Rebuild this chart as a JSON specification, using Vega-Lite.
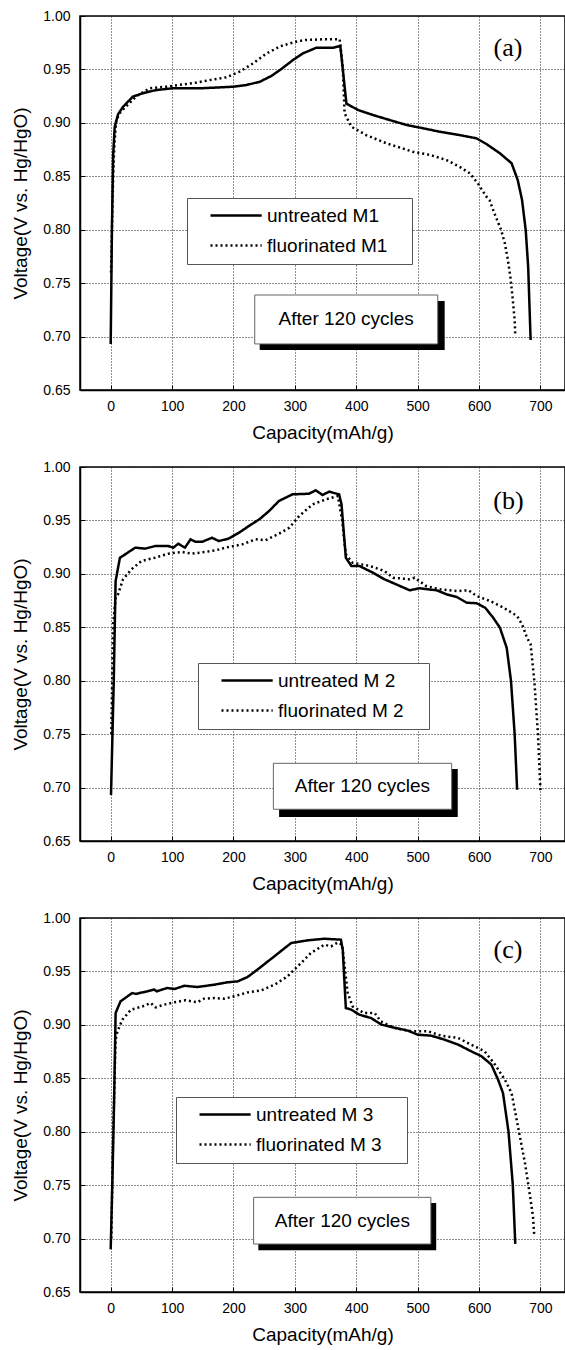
{
  "$schema": "https://vega.github.io/schema/vega-lite/v6.json",
  "background": "white",
  "padding": {"left": 11, "top": 8, "right": 0, "bottom": 0},
  "spacing": 16,
  "resolve": {"scale": {"strokeDash": "independent"}, "legend": {"strokeDash": "independent"}},
  "datasets": {
    "curves": [
      {"p":"a","s":"untreated M1","x":0,"v":0.693},{"p":"a","s":"untreated M1","x":2,"v":0.8},{"p":"a","s":"untreated M1","x":4,"v":0.87},{"p":"a","s":"untreated M1","x":6.5,"v":0.896},{"p":"a","s":"untreated M1","x":12,"v":0.908},{"p":"a","s":"untreated M1","x":20,"v":0.915},{"p":"a","s":"untreated M1","x":36,"v":0.9245},{"p":"a","s":"untreated M1","x":52,"v":0.9277},{"p":"a","s":"untreated M1","x":74,"v":0.9307},{"p":"a","s":"untreated M1","x":100,"v":0.9323},{"p":"a","s":"untreated M1","x":145,"v":0.9323},{"p":"a","s":"untreated M1","x":199,"v":0.9338},{"p":"a","s":"untreated M1","x":221,"v":0.9354},{"p":"a","s":"untreated M1","x":243,"v":0.9385},{"p":"a","s":"untreated M1","x":262,"v":0.944},{"p":"a","s":"untreated M1","x":277,"v":0.95},{"p":"a","s":"untreated M1","x":297,"v":0.9588},{"p":"a","s":"untreated M1","x":313,"v":0.965},{"p":"a","s":"untreated M1","x":335,"v":0.9703},{"p":"a","s":"untreated M1","x":362,"v":0.9703},{"p":"a","s":"untreated M1","x":374,"v":0.972},{"p":"a","s":"untreated M1","x":384,"v":0.918},{"p":"a","s":"untreated M1","x":403,"v":0.912},{"p":"a","s":"untreated M1","x":427,"v":0.9074},{"p":"a","s":"untreated M1","x":454,"v":0.9027},{"p":"a","s":"untreated M1","x":482,"v":0.898},{"p":"a","s":"untreated M1","x":509,"v":0.8949},{"p":"a","s":"untreated M1","x":536,"v":0.8917},{"p":"a","s":"untreated M1","x":568,"v":0.8886},{"p":"a","s":"untreated M1","x":596,"v":0.8855},{"p":"a","s":"untreated M1","x":612,"v":0.8802},{"p":"a","s":"untreated M1","x":634,"v":0.8715},{"p":"a","s":"untreated M1","x":653,"v":0.8622},{"p":"a","s":"untreated M1","x":663,"v":0.8465},{"p":"a","s":"untreated M1","x":670,"v":0.828},{"p":"a","s":"untreated M1","x":676,"v":0.7997},{"p":"a","s":"untreated M1","x":680,"v":0.7654},{"p":"a","s":"untreated M1","x":684,"v":0.6968},
      {"p":"a","s":"fluorinated M1","x":0.5,"v":0.76},{"p":"a","s":"fluorinated M1","x":2,"v":0.8},{"p":"a","s":"fluorinated M1","x":4,"v":0.85},{"p":"a","s":"fluorinated M1","x":6,"v":0.88},{"p":"a","s":"fluorinated M1","x":9,"v":0.9027},{"p":"a","s":"fluorinated M1","x":16,"v":0.91},{"p":"a","s":"fluorinated M1","x":25,"v":0.9153},{"p":"a","s":"fluorinated M1","x":41,"v":0.9245},{"p":"a","s":"fluorinated M1","x":63,"v":0.9323},{"p":"a","s":"fluorinated M1","x":90,"v":0.9338},{"p":"a","s":"fluorinated M1","x":118,"v":0.936},{"p":"a","s":"fluorinated M1","x":140,"v":0.9377},{"p":"a","s":"fluorinated M1","x":156,"v":0.9395},{"p":"a","s":"fluorinated M1","x":188,"v":0.9426},{"p":"a","s":"fluorinated M1","x":210,"v":0.9479},{"p":"a","s":"fluorinated M1","x":232,"v":0.9557},{"p":"a","s":"fluorinated M1","x":254,"v":0.965},{"p":"a","s":"fluorinated M1","x":277,"v":0.9718},{"p":"a","s":"fluorinated M1","x":302,"v":0.976},{"p":"a","s":"fluorinated M1","x":317,"v":0.9775},{"p":"a","s":"fluorinated M1","x":346,"v":0.9782},{"p":"a","s":"fluorinated M1","x":373,"v":0.9782},{"p":"a","s":"fluorinated M1","x":378,"v":0.9526},{"p":"a","s":"fluorinated M1","x":381,"v":0.909},{"p":"a","s":"fluorinated M1","x":392,"v":0.8964},{"p":"a","s":"fluorinated M1","x":416,"v":0.8886},{"p":"a","s":"fluorinated M1","x":449,"v":0.8809},{"p":"a","s":"fluorinated M1","x":492,"v":0.873},{"p":"a","s":"fluorinated M1","x":520,"v":0.87},{"p":"a","s":"fluorinated M1","x":547,"v":0.8652},{"p":"a","s":"fluorinated M1","x":568,"v":0.859},{"p":"a","s":"fluorinated M1","x":585,"v":0.8528},{"p":"a","s":"fluorinated M1","x":598,"v":0.8434},{"p":"a","s":"fluorinated M1","x":612,"v":0.8309},{"p":"a","s":"fluorinated M1","x":617,"v":0.8278},{"p":"a","s":"fluorinated M1","x":625,"v":0.8154},{"p":"a","s":"fluorinated M1","x":636,"v":0.7997},{"p":"a","s":"fluorinated M1","x":642,"v":0.7873},{"p":"a","s":"fluorinated M1","x":647,"v":0.7717},{"p":"a","s":"fluorinated M1","x":651,"v":0.756},{"p":"a","s":"fluorinated M1","x":655,"v":0.7342},{"p":"a","s":"fluorinated M1","x":658,"v":0.7155},{"p":"a","s":"fluorinated M1","x":659,"v":0.7015},
      {"p":"b","s":"untreated M 2","x":0.5,"v":0.693},{"p":"b","s":"untreated M 2","x":5,"v":0.8},{"p":"b","s":"untreated M 2","x":8,"v":0.8933},{"p":"b","s":"untreated M 2","x":15,"v":0.915},{"p":"b","s":"untreated M 2","x":40,"v":0.9245},{"p":"b","s":"untreated M 2","x":56,"v":0.9236},{"p":"b","s":"untreated M 2","x":72,"v":0.926},{"p":"b","s":"untreated M 2","x":94,"v":0.926},{"p":"b","s":"untreated M 2","x":102,"v":0.9245},{"p":"b","s":"untreated M 2","x":110,"v":0.9282},{"p":"b","s":"untreated M 2","x":121,"v":0.9245},{"p":"b","s":"untreated M 2","x":130,"v":0.9323},{"p":"b","s":"untreated M 2","x":138,"v":0.93},{"p":"b","s":"untreated M 2","x":149,"v":0.93},{"p":"b","s":"untreated M 2","x":165,"v":0.9338},{"p":"b","s":"untreated M 2","x":176,"v":0.9307},{"p":"b","s":"untreated M 2","x":192,"v":0.933},{"p":"b","s":"untreated M 2","x":209,"v":0.9385},{"p":"b","s":"untreated M 2","x":225,"v":0.9448},{"p":"b","s":"untreated M 2","x":242,"v":0.951},{"p":"b","s":"untreated M 2","x":258,"v":0.9588},{"p":"b","s":"untreated M 2","x":274,"v":0.9682},{"p":"b","s":"untreated M 2","x":296,"v":0.9744},{"p":"b","s":"untreated M 2","x":323,"v":0.975},{"p":"b","s":"untreated M 2","x":334,"v":0.9782},{"p":"b","s":"untreated M 2","x":345,"v":0.9738},{"p":"b","s":"untreated M 2","x":356,"v":0.9769},{"p":"b","s":"untreated M 2","x":372,"v":0.9744},{"p":"b","s":"untreated M 2","x":376,"v":0.965},{"p":"b","s":"untreated M 2","x":383,"v":0.9151},{"p":"b","s":"untreated M 2","x":392,"v":0.9074},{"p":"b","s":"untreated M 2","x":405,"v":0.9074},{"p":"b","s":"untreated M 2","x":427,"v":0.9011},{"p":"b","s":"untreated M 2","x":446,"v":0.8949},{"p":"b","s":"untreated M 2","x":465,"v":0.8902},{"p":"b","s":"untreated M 2","x":487,"v":0.8846},{"p":"b","s":"untreated M 2","x":503,"v":0.8865},{"p":"b","s":"untreated M 2","x":531,"v":0.8846},{"p":"b","s":"untreated M 2","x":547,"v":0.8809},{"p":"b","s":"untreated M 2","x":564,"v":0.8783},{"p":"b","s":"untreated M 2","x":580,"v":0.873},{"p":"b","s":"untreated M 2","x":596,"v":0.8725},{"p":"b","s":"untreated M 2","x":610,"v":0.8683},{"p":"b","s":"untreated M 2","x":623,"v":0.859},{"p":"b","s":"untreated M 2","x":634,"v":0.8496},{"p":"b","s":"untreated M 2","x":645,"v":0.8309},{"p":"b","s":"untreated M 2","x":652,"v":0.8},{"p":"b","s":"untreated M 2","x":658,"v":0.75},{"p":"b","s":"untreated M 2","x":662,"v":0.698},
      {"p":"b","s":"fluorinated M 2","x":1,"v":0.75},{"p":"b","s":"fluorinated M 2","x":4,"v":0.8528},{"p":"b","s":"fluorinated M 2","x":8,"v":0.8777},{"p":"b","s":"fluorinated M 2","x":12,"v":0.8809},{"p":"b","s":"fluorinated M 2","x":20,"v":0.8949},{"p":"b","s":"fluorinated M 2","x":34,"v":0.9043},{"p":"b","s":"fluorinated M 2","x":50,"v":0.912},{"p":"b","s":"fluorinated M 2","x":72,"v":0.9151},{"p":"b","s":"fluorinated M 2","x":94,"v":0.9189},{"p":"b","s":"fluorinated M 2","x":116,"v":0.9205},{"p":"b","s":"fluorinated M 2","x":132,"v":0.9189},{"p":"b","s":"fluorinated M 2","x":154,"v":0.9205},{"p":"b","s":"fluorinated M 2","x":171,"v":0.922},{"p":"b","s":"fluorinated M 2","x":187,"v":0.9245},{"p":"b","s":"fluorinated M 2","x":214,"v":0.9276},{"p":"b","s":"fluorinated M 2","x":236,"v":0.9323},{"p":"b","s":"fluorinated M 2","x":252,"v":0.9314},{"p":"b","s":"fluorinated M 2","x":274,"v":0.9376},{"p":"b","s":"fluorinated M 2","x":291,"v":0.9432},{"p":"b","s":"fluorinated M 2","x":307,"v":0.9541},{"p":"b","s":"fluorinated M 2","x":329,"v":0.9651},{"p":"b","s":"fluorinated M 2","x":351,"v":0.9698},{"p":"b","s":"fluorinated M 2","x":370,"v":0.9729},{"p":"b","s":"fluorinated M 2","x":377,"v":0.95},{"p":"b","s":"fluorinated M 2","x":383,"v":0.9183},{"p":"b","s":"fluorinated M 2","x":394,"v":0.9104},{"p":"b","s":"fluorinated M 2","x":422,"v":0.9074},{"p":"b","s":"fluorinated M 2","x":446,"v":0.9027},{"p":"b","s":"fluorinated M 2","x":460,"v":0.8964},{"p":"b","s":"fluorinated M 2","x":487,"v":0.8949},{"p":"b","s":"fluorinated M 2","x":495,"v":0.8964},{"p":"b","s":"fluorinated M 2","x":514,"v":0.8886},{"p":"b","s":"fluorinated M 2","x":536,"v":0.8855},{"p":"b","s":"fluorinated M 2","x":564,"v":0.8839},{"p":"b","s":"fluorinated M 2","x":583,"v":0.8846},{"p":"b","s":"fluorinated M 2","x":596,"v":0.8793},{"p":"b","s":"fluorinated M 2","x":618,"v":0.8746},{"p":"b","s":"fluorinated M 2","x":640,"v":0.8683},{"p":"b","s":"fluorinated M 2","x":662,"v":0.8606},{"p":"b","s":"fluorinated M 2","x":670,"v":0.8528},{"p":"b","s":"fluorinated M 2","x":678,"v":0.8403},{"p":"b","s":"fluorinated M 2","x":684,"v":0.8341},{"p":"b","s":"fluorinated M 2","x":690,"v":0.8},{"p":"b","s":"fluorinated M 2","x":696,"v":0.75},{"p":"b","s":"fluorinated M 2","x":700,"v":0.697},
      {"p":"c","s":"untreated M 3","x":0,"v":0.69},{"p":"c","s":"untreated M 3","x":3,"v":0.76},{"p":"c","s":"untreated M 3","x":5.5,"v":0.8269},{"p":"c","s":"untreated M 3","x":8,"v":0.9111},{"p":"c","s":"untreated M 3","x":16,"v":0.922},{"p":"c","s":"untreated M 3","x":35,"v":0.9298},{"p":"c","s":"untreated M 3","x":41,"v":0.929},{"p":"c","s":"untreated M 3","x":60,"v":0.9314},{"p":"c","s":"untreated M 3","x":71,"v":0.933},{"p":"c","s":"untreated M 3","x":75,"v":0.9314},{"p":"c","s":"untreated M 3","x":92,"v":0.9345},{"p":"c","s":"untreated M 3","x":104,"v":0.9336},{"p":"c","s":"untreated M 3","x":120,"v":0.9366},{"p":"c","s":"untreated M 3","x":141,"v":0.9354},{"p":"c","s":"untreated M 3","x":169,"v":0.9376},{"p":"c","s":"untreated M 3","x":190,"v":0.9398},{"p":"c","s":"untreated M 3","x":207,"v":0.9407},{"p":"c","s":"untreated M 3","x":223,"v":0.9448},{"p":"c","s":"untreated M 3","x":239,"v":0.9517},{"p":"c","s":"untreated M 3","x":261,"v":0.9616},{"p":"c","s":"untreated M 3","x":294,"v":0.9766},{"p":"c","s":"untreated M 3","x":321,"v":0.9791},{"p":"c","s":"untreated M 3","x":348,"v":0.9806},{"p":"c","s":"untreated M 3","x":375,"v":0.9797},{"p":"c","s":"untreated M 3","x":378,"v":0.97},{"p":"c","s":"untreated M 3","x":383,"v":0.9158},{"p":"c","s":"untreated M 3","x":392,"v":0.9142},{"p":"c","s":"untreated M 3","x":405,"v":0.9095},{"p":"c","s":"untreated M 3","x":424,"v":0.9064},{"p":"c","s":"untreated M 3","x":441,"v":0.9002},{"p":"c","s":"untreated M 3","x":457,"v":0.898},{"p":"c","s":"untreated M 3","x":484,"v":0.8946},{"p":"c","s":"untreated M 3","x":500,"v":0.8908},{"p":"c","s":"untreated M 3","x":522,"v":0.8899},{"p":"c","s":"untreated M 3","x":544,"v":0.8861},{"p":"c","s":"untreated M 3","x":566,"v":0.8815},{"p":"c","s":"untreated M 3","x":587,"v":0.8753},{"p":"c","s":"untreated M 3","x":604,"v":0.8706},{"p":"c","s":"untreated M 3","x":620,"v":0.8628},{"p":"c","s":"untreated M 3","x":631,"v":0.8487},{"p":"c","s":"untreated M 3","x":639,"v":0.8362},{"p":"c","s":"untreated M 3","x":648,"v":0.8},{"p":"c","s":"untreated M 3","x":655,"v":0.75},{"p":"c","s":"untreated M 3","x":659,"v":0.695},
      {"p":"c","s":"fluorinated M 3","x":1,"v":0.7},{"p":"c","s":"fluorinated M 3","x":4,"v":0.8},{"p":"c","s":"fluorinated M 3","x":8,"v":0.8861},{"p":"c","s":"fluorinated M 3","x":11,"v":0.894},{"p":"c","s":"fluorinated M 3","x":19,"v":0.9048},{"p":"c","s":"fluorinated M 3","x":33,"v":0.9142},{"p":"c","s":"fluorinated M 3","x":52,"v":0.9173},{"p":"c","s":"fluorinated M 3","x":65,"v":0.9205},{"p":"c","s":"fluorinated M 3","x":73,"v":0.9164},{"p":"c","s":"fluorinated M 3","x":87,"v":0.9189},{"p":"c","s":"fluorinated M 3","x":103,"v":0.9211},{"p":"c","s":"fluorinated M 3","x":122,"v":0.923},{"p":"c","s":"fluorinated M 3","x":141,"v":0.9211},{"p":"c","s":"fluorinated M 3","x":152,"v":0.9245},{"p":"c","s":"fluorinated M 3","x":169,"v":0.9251},{"p":"c","s":"fluorinated M 3","x":185,"v":0.9245},{"p":"c","s":"fluorinated M 3","x":201,"v":0.9267},{"p":"c","s":"fluorinated M 3","x":223,"v":0.9304},{"p":"c","s":"fluorinated M 3","x":245,"v":0.9323},{"p":"c","s":"fluorinated M 3","x":267,"v":0.9376},{"p":"c","s":"fluorinated M 3","x":288,"v":0.9454},{"p":"c","s":"fluorinated M 3","x":299,"v":0.9517},{"p":"c","s":"fluorinated M 3","x":310,"v":0.9579},{"p":"c","s":"fluorinated M 3","x":326,"v":0.9672},{"p":"c","s":"fluorinated M 3","x":348,"v":0.975},{"p":"c","s":"fluorinated M 3","x":359,"v":0.9735},{"p":"c","s":"fluorinated M 3","x":370,"v":0.9772},{"p":"c","s":"fluorinated M 3","x":377,"v":0.975},{"p":"c","s":"fluorinated M 3","x":386,"v":0.93},{"p":"c","s":"fluorinated M 3","x":394,"v":0.9173},{"p":"c","s":"fluorinated M 3","x":413,"v":0.911},{"p":"c","s":"fluorinated M 3","x":430,"v":0.911},{"p":"c","s":"fluorinated M 3","x":440,"v":0.9033},{"p":"c","s":"fluorinated M 3","x":462,"v":0.8971},{"p":"c","s":"fluorinated M 3","x":490,"v":0.894},{"p":"c","s":"fluorinated M 3","x":517,"v":0.894},{"p":"c","s":"fluorinated M 3","x":538,"v":0.8899},{"p":"c","s":"fluorinated M 3","x":566,"v":0.8877},{"p":"c","s":"fluorinated M 3","x":587,"v":0.8815},{"p":"c","s":"fluorinated M 3","x":609,"v":0.8753},{"p":"c","s":"fluorinated M 3","x":626,"v":0.8628},{"p":"c","s":"fluorinated M 3","x":642,"v":0.8487},{"p":"c","s":"fluorinated M 3","x":653,"v":0.8362},{"p":"c","s":"fluorinated M 3","x":665,"v":0.8},{"p":"c","s":"fluorinated M 3","x":675,"v":0.77},{"p":"c","s":"fluorinated M 3","x":683,"v":0.74},{"p":"c","s":"fluorinated M 3","x":688,"v":0.72},{"p":"c","s":"fluorinated M 3","x":690,"v":0.702}
    ]
  },
  "config": {
    "view": {"stroke": "black", "strokeWidth": 1.5},
    "font": "Liberation Sans",
    "axis": {
      "domainColor": "black", "domainWidth": 1.5,
      "tickColor": "black", "tickSize": -5, "tickWidth": 1,
      "labelFont": "Liberation Sans", "labelFontSize": 14, "labelColor": "black",
      "labelFlush": false, "labelOverlap": false,
      "titleFont": "Liberation Sans", "titleFontSize": 19, "titleFontWeight": "normal", "titleColor": "black",
      "gridColor": "#222", "gridDash": [1, 2], "gridWidth": 1
    },
    "axisX": {"labelPadding": 14, "titlePadding": 10},
    "axisY": {"labelPadding": 15, "titlePadding": 12},
    "legend": {
      "orient": "none", "fillColor": "white", "strokeColor": "#555", "padding": 8,
      "symbolType": "M-3.2,0H3.2", "symbolSize": 256, "symbolStrokeWidth": 2.5, "symbolStrokeColor": "black",
      "symbolOffset": 31.6, "labelOffset": 21.4, "rowPadding": 10,
      "labelFont": "Liberation Sans", "labelFontSize": 19, "labelColor": "black",
      "titleOrient": "right", "titlePadding": 17, "titleFontSize": 10
    },
    "line": {"strokeWidth": 2.5, "color": "black"}
  },
  "vconcat": [
    {
      "width": 485, "height": 374,
      "layer": [
        {
          "data": {"name": "curves"},
          "transform": [{"filter": "datum.p === 'a'"}],
          "mark": {"type": "line", "color": "black", "strokeWidth": 2.5},
          "encoding": {
            "x": {"field": "x", "type": "quantitative", "scale": {"domain": [-50, 740], "nice": false, "zero": false},
              "axis": {"title": "Capacity(mAh/g)", "values": [0,50,100,150,200,250,300,350,400,450,500,550,600,650,700], "labelExpr": "datum.value % 100 === 0 ? datum.label : ''", "gridOpacity": {"condition": {"test": "datum.value % 100 === 0", "value": 1}, "value": 0}}},
            "y": {"field": "v", "type": "quantitative", "scale": {"domain": [0.65, 1.0], "nice": false, "zero": false},
              "axis": {"title": "Voltage(V vs. Hg/HgO)", "format": ".2f", "values": [0.65,0.675,0.7,0.725,0.75,0.775,0.8,0.825,0.85,0.875,0.9,0.925,0.95,0.975,1.0], "labelExpr": "abs(datum.value*20 - round(datum.value*20)) < 0.001 ? datum.label : ''", "gridOpacity": {"condition": {"test": "abs(datum.value*20 - round(datum.value*20)) < 0.001", "value": 1}, "value": 0}}},
            "strokeDash": {"field": "s", "type": "nominal", "scale": {"domain": ["untreated M1", "fluorinated M1"], "range": [[1, 0], [2, 3]]}, "legend": {"title": " ", "legendX": 107, "legendY": 182}}
          }
        },
        {
          "data": {"values": [{"note": "After 120 cycles"}]},
          "mark": {"type": "rect", "fill": "black"},
          "encoding": {"x": {"datum": 242.7, "type": "quantitative"}, "x2": {"datum": 544}, "y": {"datum": 0.7333, "type": "quantitative"}, "y2": {"datum": 0.6874}}
        },
        {
          "data": {"values": [{"note": "After 120 cycles"}]},
          "mark": {"type": "rect", "fill": "white", "stroke": "#666", "strokeWidth": 1},
          "encoding": {"x": {"datum": 234.6, "type": "quantitative"}, "x2": {"datum": 532.7}, "y": {"datum": 0.7389, "type": "quantitative"}, "y2": {"datum": 0.6931}}
        },
        {
          "data": {"values": [{"note": "After 120 cycles"}]},
          "mark": {"type": "text", "font": "Liberation Sans", "fontSize": 19, "color": "black"},
          "encoding": {"x": {"datum": 383.6, "type": "quantitative"}, "y": {"datum": 0.716, "type": "quantitative"}, "text": {"field": "note"}}
        },
        {
          "data": {"values": [{"tag": "(a)"}]},
          "mark": {"type": "text", "font": "Liberation Serif", "fontSize": 26, "color": "black"},
          "encoding": {"x": {"datum": 647, "type": "quantitative"}, "y": {"datum": 0.9703, "type": "quantitative"}, "text": {"field": "tag"}}
        }
      ]
    },
    {
      "width": 485, "height": 374,
      "layer": [
        {
          "data": {"name": "curves"},
          "transform": [{"filter": "datum.p === 'b'"}],
          "mark": {"type": "line", "color": "black", "strokeWidth": 2.5},
          "encoding": {
            "x": {"field": "x", "type": "quantitative", "scale": {"domain": [-50, 740], "nice": false, "zero": false},
              "axis": {"title": "Capacity(mAh/g)", "values": [0,50,100,150,200,250,300,350,400,450,500,550,600,650,700], "labelExpr": "datum.value % 100 === 0 ? datum.label : ''", "gridOpacity": {"condition": {"test": "datum.value % 100 === 0", "value": 1}, "value": 0}}},
            "y": {"field": "v", "type": "quantitative", "scale": {"domain": [0.65, 1.0], "nice": false, "zero": false},
              "axis": {"title": "Voltage(V vs. Hg/HgO)", "format": ".2f", "values": [0.65,0.675,0.7,0.725,0.75,0.775,0.8,0.825,0.85,0.875,0.9,0.925,0.95,0.975,1.0], "labelExpr": "abs(datum.value*20 - round(datum.value*20)) < 0.001 ? datum.label : ''", "gridOpacity": {"condition": {"test": "abs(datum.value*20 - round(datum.value*20)) < 0.001", "value": 1}, "value": 0}}},
            "strokeDash": {"field": "s", "type": "nominal", "scale": {"domain": ["untreated M 2", "fluorinated M 2"], "range": [[1, 0], [2, 3]]}, "legend": {"title": " ", "legendX": 118, "legendY": 196}}
          }
        },
        {
          "data": {"values": [{"note": "After 120 cycles"}]},
          "mark": {"type": "rect", "fill": "black"},
          "encoding": {"x": {"datum": 274.3, "type": "quantitative"}, "x2": {"datum": 565.3}, "y": {"datum": 0.7174, "type": "quantitative"}, "y2": {"datum": 0.6725}}
        },
        {
          "data": {"values": [{"note": "After 120 cycles"}]},
          "mark": {"type": "rect", "fill": "white", "stroke": "#666", "strokeWidth": 1},
          "encoding": {"x": {"datum": 265, "type": "quantitative"}, "x2": {"datum": 555.4}, "y": {"datum": 0.7227, "type": "quantitative"}, "y2": {"datum": 0.6797}}
        },
        {
          "data": {"values": [{"note": "After 120 cycles"}]},
          "mark": {"type": "text", "font": "Liberation Sans", "fontSize": 19, "color": "black"},
          "encoding": {"x": {"datum": 410, "type": "quantitative"}, "y": {"datum": 0.7012, "type": "quantitative"}, "text": {"field": "note"}}
        },
        {
          "data": {"values": [{"tag": "(b)"}]},
          "mark": {"type": "text", "font": "Liberation Serif", "fontSize": 26, "color": "black"},
          "encoding": {"x": {"datum": 648, "type": "quantitative"}, "y": {"datum": 0.9682, "type": "quantitative"}, "text": {"field": "tag"}}
        }
      ]
    },
    {
      "width": 485, "height": 374,
      "layer": [
        {
          "data": {"name": "curves"},
          "transform": [{"filter": "datum.p === 'c'"}],
          "mark": {"type": "line", "color": "black", "strokeWidth": 2.5},
          "encoding": {
            "x": {"field": "x", "type": "quantitative", "scale": {"domain": [-50, 740], "nice": false, "zero": false},
              "axis": {"title": "Capacity(mAh/g)", "values": [0,50,100,150,200,250,300,350,400,450,500,550,600,650,700], "labelExpr": "datum.value % 100 === 0 ? datum.label : ''", "gridOpacity": {"condition": {"test": "datum.value % 100 === 0", "value": 1}, "value": 0}}},
            "y": {"field": "v", "type": "quantitative", "scale": {"domain": [0.65, 1.0], "nice": false, "zero": false},
              "axis": {"title": "Voltage(V vs. Hg/HgO)", "format": ".2f", "values": [0.65,0.675,0.7,0.725,0.75,0.775,0.8,0.825,0.85,0.875,0.9,0.925,0.95,0.975,1.0], "labelExpr": "abs(datum.value*20 - round(datum.value*20)) < 0.001 ? datum.label : ''", "gridOpacity": {"condition": {"test": "abs(datum.value*20 - round(datum.value*20)) < 0.001", "value": 1}, "value": 0}}},
            "strokeDash": {"field": "s", "type": "nominal", "scale": {"domain": ["untreated M 3", "fluorinated M 3"], "range": [[1, 0], [2, 3]]}, "legend": {"title": " ", "legendX": 96, "legendY": 179}}
          }
        },
        {
          "data": {"values": [{"note": "After 120 cycles"}]},
          "mark": {"type": "rect", "fill": "black"},
          "encoding": {"x": {"datum": 240.5, "type": "quantitative"}, "x2": {"datum": 530.2}, "y": {"datum": 0.7333, "type": "quantitative"}, "y2": {"datum": 0.689}}
        },
        {
          "data": {"values": [{"note": "After 120 cycles"}]},
          "mark": {"type": "rect", "fill": "white", "stroke": "#666", "strokeWidth": 1},
          "encoding": {"x": {"datum": 232.8, "type": "quantitative"}, "x2": {"datum": 521.5}, "y": {"datum": 0.7386, "type": "quantitative"}, "y2": {"datum": 0.6949}}
        },
        {
          "data": {"values": [{"note": "After 120 cycles"}]},
          "mark": {"type": "text", "font": "Liberation Sans", "fontSize": 19, "color": "black"},
          "encoding": {"x": {"datum": 377.3, "type": "quantitative"}, "y": {"datum": 0.7167, "type": "quantitative"}, "text": {"field": "note"}}
        },
        {
          "data": {"values": [{"tag": "(c)"}]},
          "mark": {"type": "text", "font": "Liberation Serif", "fontSize": 26, "color": "black"},
          "encoding": {"x": {"datum": 647, "type": "quantitative"}, "y": {"datum": 0.9703, "type": "quantitative"}, "text": {"field": "tag"}}
        }
      ]
    }
  ]
}
